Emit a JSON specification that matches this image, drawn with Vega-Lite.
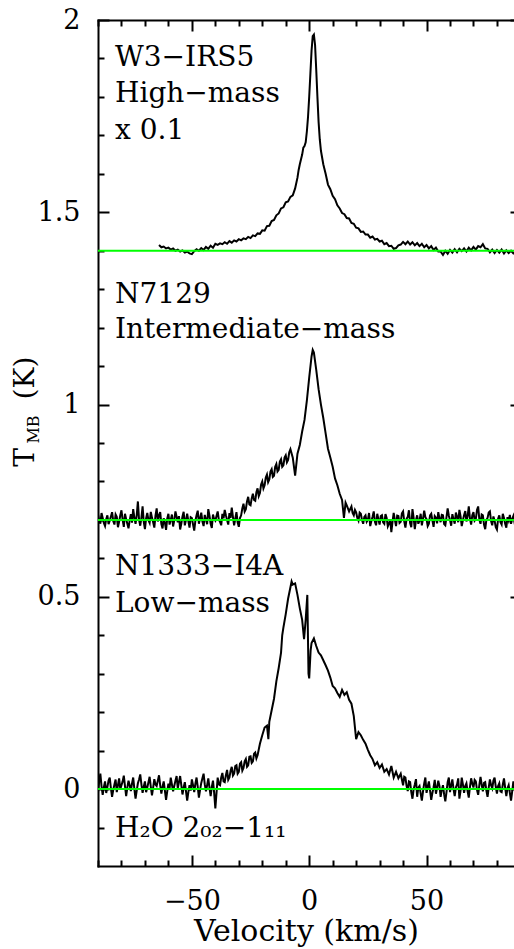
{
"$schema":"https://vega.github.io/schema/vega-lite/v6.json",
"width":416,"height":846,
"autosize":{"type":"none"},
"padding":{"left":98,"top":20,"right":0,"bottom":83},
"datasets":{
"w3":[{"v":-64,"t":1.415},{"v":-63,"t":1.409},{"v":-62,"t":1.411},{"v":-61,"t":1.406},{"v":-60,"t":1.408},{"v":-59,"t":1.403},{"v":-58,"t":1.406},{"v":-57,"t":1.4},{"v":-56,"t":1.403},{"v":-55,"t":1.398},{"v":-54,"t":1.401},{"v":-53,"t":1.395},{"v":-52,"t":1.398},{"v":-51,"t":1.393},{"v":-50,"t":1.391},{"v":-49,"t":1.399},{"v":-48,"t":1.404},{"v":-47,"t":1.4},{"v":-46,"t":1.407},{"v":-45,"t":1.402},{"v":-44,"t":1.41},{"v":-43,"t":1.405},{"v":-42,"t":1.413},{"v":-41,"t":1.408},{"v":-40,"t":1.418},{"v":-39,"t":1.415},{"v":-38,"t":1.419},{"v":-37,"t":1.417},{"v":-36,"t":1.422},{"v":-35,"t":1.418},{"v":-34,"t":1.425},{"v":-33,"t":1.421},{"v":-32,"t":1.427},{"v":-31,"t":1.424},{"v":-30,"t":1.43},{"v":-29,"t":1.427},{"v":-28,"t":1.432},{"v":-27,"t":1.43},{"v":-26,"t":1.436},{"v":-25,"t":1.433},{"v":-24,"t":1.44},{"v":-23,"t":1.438},{"v":-22,"t":1.445},{"v":-21,"t":1.444},{"v":-20,"t":1.453},{"v":-19,"t":1.452},{"v":-18,"t":1.464},{"v":-17,"t":1.465},{"v":-16,"t":1.477},{"v":-15,"t":1.48},{"v":-14,"t":1.492},{"v":-13,"t":1.497},{"v":-12,"t":1.51},{"v":-11,"t":1.513},{"v":-10,"t":1.526},{"v":-9,"t":1.528},{"v":-8,"t":1.54},{"v":-7,"t":1.544},{"v":-6,"t":1.562},{"v":-5,"t":1.59},{"v":-4.5,"t":1.61},{"v":-4,"t":1.625},{"v":-3,"t":1.65},{"v":-2.5,"t":1.668},{"v":-2,"t":1.672},{"v":-1.5,"t":1.682},{"v":-1,"t":1.71},{"v":-0.5,"t":1.748},{"v":0,"t":1.8},{"v":0.5,"t":1.86},{"v":1,"t":1.92},{"v":1.5,"t":1.958},{"v":2,"t":1.962},{"v":2.5,"t":1.935},{"v":3,"t":1.87},{"v":3.5,"t":1.8},{"v":4,"t":1.735},{"v":4.5,"t":1.69},{"v":5,"t":1.66},{"v":6,"t":1.625},{"v":7,"t":1.6},{"v":8,"t":1.572},{"v":9,"t":1.56},{"v":10,"t":1.543},{"v":11,"t":1.534},{"v":12,"t":1.518},{"v":13,"t":1.51},{"v":14,"t":1.498},{"v":15,"t":1.495},{"v":16,"t":1.485},{"v":17,"t":1.484},{"v":18,"t":1.472},{"v":19,"t":1.47},{"v":20,"t":1.46},{"v":21,"t":1.458},{"v":22,"t":1.449},{"v":23,"t":1.45},{"v":24,"t":1.442},{"v":25,"t":1.442},{"v":26,"t":1.434},{"v":27,"t":1.437},{"v":28,"t":1.429},{"v":29,"t":1.431},{"v":30,"t":1.424},{"v":31,"t":1.426},{"v":32,"t":1.417},{"v":33,"t":1.42},{"v":34,"t":1.412},{"v":35,"t":1.413},{"v":36,"t":1.405},{"v":37,"t":1.407},{"v":38,"t":1.414},{"v":39,"t":1.416},{"v":40,"t":1.423},{"v":41,"t":1.417},{"v":42,"t":1.424},{"v":43,"t":1.416},{"v":44,"t":1.422},{"v":45,"t":1.414},{"v":46,"t":1.42},{"v":47,"t":1.412},{"v":48,"t":1.418},{"v":49,"t":1.409},{"v":50,"t":1.415},{"v":51,"t":1.406},{"v":52,"t":1.412},{"v":53,"t":1.402},{"v":54,"t":1.408},{"v":55,"t":1.398},{"v":56,"t":1.398},{"v":57,"t":1.389},{"v":58,"t":1.4},{"v":59,"t":1.392},{"v":60,"t":1.402},{"v":61,"t":1.395},{"v":62,"t":1.404},{"v":63,"t":1.396},{"v":64,"t":1.405},{"v":65,"t":1.399},{"v":66,"t":1.406},{"v":67,"t":1.398},{"v":68,"t":1.408},{"v":69,"t":1.401},{"v":70,"t":1.41},{"v":71,"t":1.403},{"v":72,"t":1.412},{"v":73,"t":1.409},{"v":74,"t":1.417},{"v":75,"t":1.406},{"v":76,"t":1.405},{"v":77,"t":1.396},{"v":78,"t":1.403},{"v":79,"t":1.394},{"v":80,"t":1.402},{"v":81,"t":1.395},{"v":82,"t":1.403},{"v":83,"t":1.393},{"v":84,"t":1.401},{"v":85,"t":1.394},{"v":86,"t":1.4},{"v":87,"t":1.393},{"v":88,"t":1.398}],
"n7129":[{"v":-90,"t":0.715},{"v":-89.5,"t":0.7},{"v":-89,"t":0.69},{"v":-88.5,"t":0.718},{"v":-88,"t":0.705},{"v":-87.5,"t":0.692},{"v":-87,"t":0.684},{"v":-86.5,"t":0.702},{"v":-86,"t":0.712},{"v":-85.5,"t":0.689},{"v":-85,"t":0.698},{"v":-84.5,"t":0.709},{"v":-84,"t":0.72},{"v":-83.5,"t":0.697},{"v":-83,"t":0.688},{"v":-82.5,"t":0.714},{"v":-82,"t":0.708},{"v":-81.5,"t":0.681},{"v":-81,"t":0.695},{"v":-80.5,"t":0.712},{"v":-80,"t":0.725},{"v":-79.5,"t":0.7},{"v":-79,"t":0.682},{"v":-78.5,"t":0.716},{"v":-78,"t":0.702},{"v":-77.5,"t":0.69},{"v":-77,"t":0.678},{"v":-76.5,"t":0.699},{"v":-76,"t":0.715},{"v":-75.5,"t":0.693},{"v":-75,"t":0.728},{"v":-74.5,"t":0.706},{"v":-74,"t":0.69},{"v":-73.5,"t":0.712},{"v":-73,"t":0.748},{"v":-72.5,"t":0.7},{"v":-72,"t":0.685},{"v":-71.5,"t":0.706},{"v":-71,"t":0.735},{"v":-70.5,"t":0.695},{"v":-70,"t":0.676},{"v":-69.5,"t":0.704},{"v":-69,"t":0.718},{"v":-68.5,"t":0.699},{"v":-68,"t":0.692},{"v":-67.5,"t":0.721},{"v":-67,"t":0.706},{"v":-66.5,"t":0.694},{"v":-66,"t":0.68},{"v":-65.5,"t":0.711},{"v":-65,"t":0.73},{"v":-64.5,"t":0.696},{"v":-64,"t":0.712},{"v":-63.5,"t":0.72},{"v":-63,"t":0.689},{"v":-62.5,"t":0.678},{"v":-62,"t":0.704},{"v":-61.5,"t":0.693},{"v":-61,"t":0.674},{"v":-60.5,"t":0.703},{"v":-60,"t":0.716},{"v":-59.5,"t":0.688},{"v":-59,"t":0.7},{"v":-58.5,"t":0.714},{"v":-58,"t":0.683},{"v":-57.5,"t":0.699},{"v":-57,"t":0.722},{"v":-56.5,"t":0.708},{"v":-56,"t":0.694},{"v":-55.5,"t":0.71},{"v":-55,"t":0.675},{"v":-54.5,"t":0.69},{"v":-54,"t":0.709},{"v":-53.5,"t":0.721},{"v":-53,"t":0.686},{"v":-52.5,"t":0.7},{"v":-52,"t":0.716},{"v":-51.5,"t":0.697},{"v":-51,"t":0.68},{"v":-50.5,"t":0.707},{"v":-50,"t":0.705},{"v":-49.5,"t":0.688},{"v":-49,"t":0.672},{"v":-48.5,"t":0.698},{"v":-48,"t":0.712},{"v":-47.5,"t":0.724},{"v":-47,"t":0.69},{"v":-46.5,"t":0.704},{"v":-46,"t":0.719},{"v":-45.5,"t":0.696},{"v":-45,"t":0.684},{"v":-44.5,"t":0.713},{"v":-44,"t":0.701},{"v":-43.5,"t":0.689},{"v":-43,"t":0.728},{"v":-42.5,"t":0.711},{"v":-42,"t":0.69},{"v":-41.5,"t":0.679},{"v":-41,"t":0.714},{"v":-40.5,"t":0.702},{"v":-40,"t":0.698},{"v":-39.5,"t":0.71},{"v":-39,"t":0.722},{"v":-38.5,"t":0.7},{"v":-38,"t":0.695},{"v":-37.5,"t":0.686},{"v":-37,"t":0.716},{"v":-36.5,"t":0.704},{"v":-36,"t":0.726},{"v":-35.5,"t":0.712},{"v":-35,"t":0.7},{"v":-34.5,"t":0.688},{"v":-34,"t":0.718},{"v":-33.5,"t":0.705},{"v":-33,"t":0.732},{"v":-32.5,"t":0.708},{"v":-32,"t":0.686},{"v":-31.5,"t":0.703},{"v":-31,"t":0.72},{"v":-30.5,"t":0.694},{"v":-30,"t":0.682},{"v":-29.5,"t":0.705},{"v":-29,"t":0.712},{"v":-28.5,"t":0.73},{"v":-28,"t":0.742},{"v":-27.5,"t":0.722},{"v":-27,"t":0.728},{"v":-26.5,"t":0.748},{"v":-26,"t":0.76},{"v":-25.5,"t":0.74},{"v":-25,"t":0.738},{"v":-24.5,"t":0.756},{"v":-24,"t":0.768},{"v":-23.5,"t":0.752},{"v":-23,"t":0.75},{"v":-22.5,"t":0.772},{"v":-22,"t":0.782},{"v":-21.5,"t":0.762},{"v":-21,"t":0.77},{"v":-20.5,"t":0.792},{"v":-20,"t":0.8},{"v":-19.5,"t":0.782},{"v":-19,"t":0.79},{"v":-18.5,"t":0.81},{"v":-18,"t":0.818},{"v":-17.5,"t":0.798},{"v":-17,"t":0.805},{"v":-16.5,"t":0.826},{"v":-16,"t":0.832},{"v":-15.5,"t":0.812},{"v":-15,"t":0.815},{"v":-14.5,"t":0.838},{"v":-14,"t":0.845},{"v":-13.5,"t":0.826},{"v":-13,"t":0.83},{"v":-12.5,"t":0.852},{"v":-12,"t":0.858},{"v":-11.5,"t":0.838},{"v":-11,"t":0.842},{"v":-10.5,"t":0.862},{"v":-10,"t":0.868},{"v":-9.5,"t":0.85},{"v":-9,"t":0.856},{"v":-8.5,"t":0.876},{"v":-8,"t":0.884},{"v":-7,"t":0.862},{"v":-6,"t":0.815},{"v":-5,"t":0.872},{"v":-4,"t":0.895},{"v":-3,"t":0.93},{"v":-2,"t":0.96},{"v":-1,"t":1.01},{"v":0,"t":1.07},{"v":1,"t":1.125},{"v":1.5,"t":1.142},{"v":2,"t":1.135},{"v":3,"t":1.09},{"v":4,"t":1.04},{"v":5,"t":1.0},{"v":6,"t":0.965},{"v":7,"t":0.925},{"v":8,"t":0.885},{"v":9,"t":0.862},{"v":10,"t":0.838},{"v":11,"t":0.808},{"v":12,"t":0.79},{"v":13,"t":0.768},{"v":14,"t":0.752},{"v":14.8,"t":0.705},{"v":15.5,"t":0.745},{"v":16,"t":0.738},{"v":17,"t":0.722},{"v":18,"t":0.735},{"v":18.5,"t":0.718},{"v":19,"t":0.712},{"v":19.5,"t":0.726},{"v":20,"t":0.72},{"v":20.5,"t":0.705},{"v":21,"t":0.698},{"v":21.5,"t":0.719},{"v":22,"t":0.716},{"v":22.5,"t":0.7},{"v":23,"t":0.69},{"v":23.5,"t":0.708},{"v":24,"t":0.712},{"v":24.5,"t":0.695},{"v":25,"t":0.7},{"v":25.5,"t":0.718},{"v":26,"t":0.684},{"v":26.5,"t":0.697},{"v":27,"t":0.708},{"v":27.5,"t":0.722},{"v":28,"t":0.695},{"v":28.5,"t":0.686},{"v":29,"t":0.716},{"v":29.5,"t":0.701},{"v":30,"t":0.688},{"v":30.5,"t":0.71},{"v":31,"t":0.712},{"v":31.5,"t":0.694},{"v":32,"t":0.69},{"v":32.5,"t":0.715},{"v":33,"t":0.705},{"v":33.5,"t":0.683},{"v":34,"t":0.69},{"v":34.5,"t":0.702},{"v":35,"t":0.668},{"v":35.5,"t":0.695},{"v":36,"t":0.718},{"v":36.5,"t":0.7},{"v":37,"t":0.684},{"v":37.5,"t":0.711},{"v":38,"t":0.71},{"v":38.5,"t":0.692},{"v":39,"t":0.695},{"v":39.5,"t":0.717},{"v":40,"t":0.722},{"v":40.5,"t":0.696},{"v":41,"t":0.68},{"v":41.5,"t":0.703},{"v":42,"t":0.708},{"v":42.5,"t":0.725},{"v":43,"t":0.692},{"v":43.5,"t":0.681},{"v":44,"t":0.728},{"v":44.5,"t":0.705},{"v":45,"t":0.676},{"v":45.5,"t":0.699},{"v":46,"t":0.712},{"v":46.5,"t":0.69},{"v":47,"t":0.698},{"v":47.5,"t":0.716},{"v":48,"t":0.686},{"v":48.5,"t":0.703},{"v":49,"t":0.724},{"v":49.5,"t":0.707},{"v":50,"t":0.702},{"v":50.5,"t":0.684},{"v":51,"t":0.69},{"v":51.5,"t":0.712},{"v":52,"t":0.716},{"v":52.5,"t":0.699},{"v":53,"t":0.682},{"v":53.5,"t":0.71},{"v":54,"t":0.706},{"v":54.5,"t":0.691},{"v":55,"t":0.72},{"v":55.5,"t":0.704},{"v":56,"t":0.694},{"v":56.5,"t":0.713},{"v":57,"t":0.712},{"v":57.5,"t":0.689},{"v":58,"t":0.686},{"v":58.5,"t":0.707},{"v":59,"t":0.73},{"v":59.5,"t":0.711},{"v":60,"t":0.7},{"v":60.5,"t":0.685},{"v":61,"t":0.715},{"v":61.5,"t":0.702},{"v":62,"t":0.69},{"v":62.5,"t":0.719},{"v":63,"t":0.708},{"v":63.5,"t":0.694},{"v":64,"t":0.726},{"v":64.5,"t":0.709},{"v":65,"t":0.684},{"v":65.5,"t":0.699},{"v":66,"t":0.712},{"v":66.5,"t":0.723},{"v":67,"t":0.696},{"v":67.5,"t":0.71},{"v":68,"t":0.735},{"v":68.5,"t":0.704},{"v":69,"t":0.688},{"v":69.5,"t":0.712},{"v":70,"t":0.72},{"v":70.5,"t":0.698},{"v":71,"t":0.702},{"v":71.5,"t":0.726},{"v":72,"t":0.735},{"v":72.5,"t":0.701},{"v":73,"t":0.69},{"v":73.5,"t":0.714},{"v":74,"t":0.712},{"v":74.5,"t":0.688},{"v":75,"t":0.676},{"v":75.5,"t":0.7},{"v":76,"t":0.705},{"v":76.5,"t":0.719},{"v":77,"t":0.722},{"v":77.5,"t":0.697},{"v":78,"t":0.686},{"v":78.5,"t":0.709},{"v":79,"t":0.698},{"v":79.5,"t":0.681},{"v":80,"t":0.675},{"v":80.5,"t":0.703},{"v":81,"t":0.712},{"v":81.5,"t":0.694},{"v":82,"t":0.688},{"v":82.5,"t":0.716},{"v":83,"t":0.705},{"v":83.5,"t":0.69},{"v":84,"t":0.68},{"v":84.5,"t":0.707},{"v":85,"t":0.698},{"v":85.5,"t":0.713},{"v":86,"t":0.69},{"v":86.5,"t":0.702},{"v":87,"t":0.71},{"v":87.5,"t":0.693},{"v":88,"t":0.696}],
"n1333":[{"v":-90,"t":-0.01},{"v":-89.5,"t":0.02},{"v":-89,"t":0.04},{"v":-88.5,"t":0.008},{"v":-88,"t":-0.015},{"v":-87.5,"t":0.005},{"v":-87,"t":0.02},{"v":-86.5,"t":-0.01},{"v":-86,"t":0.005},{"v":-85.5,"t":0.022},{"v":-85,"t":0.03},{"v":-84.5,"t":0.002},{"v":-84,"t":-0.02},{"v":-83.5,"t":-0.002},{"v":-83,"t":0.012},{"v":-82.5,"t":0.025},{"v":-82,"t":-0.008},{"v":-81.5,"t":0.01},{"v":-81,"t":0.028},{"v":-80.5,"t":0.0},{"v":-80,"t":0.01},{"v":-79.5,"t":0.02},{"v":-79,"t":0.035},{"v":-78.5,"t":0.008},{"v":-78,"t":-0.018},{"v":-77.5,"t":0.004},{"v":-77,"t":0.022},{"v":-76.5,"t":0.01},{"v":-76,"t":-0.005},{"v":-75.5,"t":0.015},{"v":-75,"t":0.03},{"v":-74.5,"t":0.0},{"v":-74,"t":-0.025},{"v":-73.5,"t":-0.004},{"v":-73,"t":0.015},{"v":-72.5,"t":0.025},{"v":-72,"t":0.038},{"v":-71.5,"t":0.012},{"v":-71,"t":-0.01},{"v":-70.5,"t":0.006},{"v":-70,"t":0.02},{"v":-69.5,"t":-0.008},{"v":-69,"t":0.004},{"v":-68.5,"t":0.018},{"v":-68,"t":0.032},{"v":-67.5,"t":0.006},{"v":-67,"t":-0.016},{"v":-66.5,"t":0.004},{"v":-66,"t":0.026},{"v":-65.5,"t":0.012},{"v":-65,"t":0.008},{"v":-64.5,"t":0.022},{"v":-64,"t":0.036},{"v":-63.5,"t":0.01},{"v":-63,"t":-0.012},{"v":-62.5,"t":0.006},{"v":-62,"t":0.02},{"v":-61.5,"t":-0.004},{"v":-61,"t":-0.028},{"v":-60.5,"t":-0.006},{"v":-60,"t":0.014},{"v":-59.5,"t":0.002},{"v":-59,"t":0.03},{"v":-58.5,"t":0.012},{"v":-58,"t":-0.006},{"v":-57.5,"t":0.008},{"v":-57,"t":0.022},{"v":-56.5,"t":0.034},{"v":-56,"t":0.002},{"v":-55.5,"t":0.018},{"v":-55,"t":0.034},{"v":-54.5,"t":0.01},{"v":-54,"t":-0.014},{"v":-53.5,"t":0.004},{"v":-53,"t":0.018},{"v":-52.5,"t":-0.006},{"v":-52,"t":-0.03},{"v":-51.5,"t":-0.008},{"v":-51,"t":0.01},{"v":-50.5,"t":-0.004},{"v":-50,"t":0.025},{"v":-49.5,"t":0.01},{"v":-49,"t":-0.008},{"v":-48.5,"t":0.014},{"v":-48,"t":0.03},{"v":-47.5,"t":0.006},{"v":-47,"t":-0.022},{"v":-46.5,"t":-0.002},{"v":-46,"t":0.016},{"v":-45.5,"t":0.028},{"v":-45,"t":0.04},{"v":-44.5,"t":0.012},{"v":-44,"t":-0.006},{"v":-43.5,"t":0.01},{"v":-43,"t":0.028},{"v":-42.5,"t":0.004},{"v":-42,"t":-0.018},{"v":-41.5,"t":0.006},{"v":-41,"t":0.022},{"v":-40.5,"t":-0.01},{"v":-40,"t":-0.05},{"v":-39.5,"t":-0.01},{"v":-39,"t":0.03},{"v":-38.5,"t":0.012},{"v":-38,"t":0.01},{"v":-37.5,"t":0.03},{"v":-37,"t":0.042},{"v":-36.5,"t":0.02},{"v":-36,"t":0.018},{"v":-35.5,"t":0.036},{"v":-35,"t":0.05},{"v":-34.5,"t":0.024},{"v":-34,"t":0.03},{"v":-33.5,"t":0.048},{"v":-33,"t":0.058},{"v":-32.5,"t":0.035},{"v":-32,"t":0.04},{"v":-31.5,"t":0.06},{"v":-31,"t":0.062},{"v":-30.5,"t":0.04},{"v":-30,"t":0.045},{"v":-29.5,"t":0.066},{"v":-29,"t":0.07},{"v":-28.5,"t":0.048},{"v":-28,"t":0.055},{"v":-27.5,"t":0.072},{"v":-27,"t":0.078},{"v":-26.5,"t":0.058},{"v":-26,"t":0.062},{"v":-25.5,"t":0.084},{"v":-25,"t":0.085},{"v":-24.5,"t":0.068},{"v":-24,"t":0.072},{"v":-23.5,"t":0.092},{"v":-23,"t":0.095},{"v":-22.5,"t":0.08},{"v":-22,"t":0.088},{"v":-21,"t":0.118},{"v":-20,"t":0.14},{"v":-19,"t":0.16},{"v":-18,"t":0.165},{"v":-17.4,"t":0.13},{"v":-17,"t":0.175},{"v":-16,"t":0.205},{"v":-15,"t":0.235},{"v":-14,"t":0.28},{"v":-13,"t":0.315},{"v":-12,"t":0.355},{"v":-11.5,"t":0.4},{"v":-11,"t":0.42},{"v":-10,"t":0.455},{"v":-9,"t":0.495},{"v":-8,"t":0.525},{"v":-7.5,"t":0.54},{"v":-7,"t":0.532},{"v":-6,"t":0.535},{"v":-5,"t":0.505},{"v":-4,"t":0.47},{"v":-3,"t":0.44},{"v":-2.2,"t":0.39},{"v":-1.5,"t":0.44},{"v":-0.8,"t":0.505},{"v":-0.3,"t":0.3},{"v":0,"t":0.288},{"v":0.6,"t":0.36},{"v":1,"t":0.38},{"v":2,"t":0.392},{"v":3,"t":0.372},{"v":4,"t":0.355},{"v":5,"t":0.348},{"v":6,"t":0.335},{"v":7,"t":0.322},{"v":8,"t":0.308},{"v":9,"t":0.29},{"v":10,"t":0.268},{"v":11,"t":0.262},{"v":12,"t":0.25},{"v":13,"t":0.24},{"v":14,"t":0.258},{"v":15,"t":0.245},{"v":16,"t":0.252},{"v":17,"t":0.232},{"v":18,"t":0.222},{"v":19,"t":0.19},{"v":20,"t":0.13},{"v":21,"t":0.148},{"v":22,"t":0.14},{"v":23,"t":0.128},{"v":24,"t":0.118},{"v":25,"t":0.102},{"v":26,"t":0.088},{"v":27,"t":0.078},{"v":28,"t":0.062},{"v":29,"t":0.07},{"v":30,"t":0.055},{"v":31,"t":0.064},{"v":32,"t":0.045},{"v":33,"t":0.052},{"v":34,"t":0.038},{"v":35,"t":0.06},{"v":36,"t":0.03},{"v":37,"t":0.045},{"v":38,"t":0.028},{"v":39,"t":0.04},{"v":40,"t":0.01},{"v":40.5,"t":0.032},{"v":41,"t":0.03},{"v":41.5,"t":0.008},{"v":42,"t":-0.005},{"v":42.5,"t":0.02},{"v":43,"t":0.018},{"v":43.5,"t":-0.008},{"v":44,"t":-0.025},{"v":44.5,"t":0.0},{"v":45,"t":0.012},{"v":45.5,"t":0.026},{"v":46,"t":-0.02},{"v":46.5,"t":0.004},{"v":47,"t":0.008},{"v":47.5,"t":-0.012},{"v":48,"t":-0.03},{"v":48.5,"t":-0.006},{"v":49,"t":0.015},{"v":49.5,"t":0.03},{"v":50,"t":-0.01},{"v":50.5,"t":0.006},{"v":51,"t":0.02},{"v":51.5,"t":-0.004},{"v":52,"t":-0.028},{"v":52.5,"t":-0.01},{"v":53,"t":0.005},{"v":53.5,"t":0.024},{"v":54,"t":-0.012},{"v":54.5,"t":0.004},{"v":55,"t":0.022},{"v":55.5,"t":0.008},{"v":56,"t":-0.02},{"v":56.5,"t":-0.002},{"v":57,"t":0.01},{"v":57.5,"t":-0.014},{"v":58,"t":-0.032},{"v":58.5,"t":-0.008},{"v":59,"t":0.018},{"v":59.5,"t":0.03},{"v":60,"t":-0.008},{"v":60.5,"t":0.01},{"v":61,"t":0.025},{"v":61.5,"t":0.0},{"v":62,"t":-0.018},{"v":62.5,"t":0.004},{"v":63,"t":0.012},{"v":63.5,"t":0.028},{"v":64,"t":-0.025},{"v":64.5,"t":-0.004},{"v":65,"t":0.03},{"v":65.5,"t":0.012},{"v":66,"t":-0.01},{"v":66.5,"t":0.008},{"v":67,"t":0.015},{"v":67.5,"t":-0.006},{"v":68,"t":-0.022},{"v":68.5,"t":0.006},{"v":69,"t":0.028},{"v":69.5,"t":0.014},{"v":70,"t":0.004},{"v":70.5,"t":0.024},{"v":71,"t":0.02},{"v":71.5,"t":-0.002},{"v":72,"t":-0.015},{"v":72.5,"t":0.01},{"v":73,"t":0.032},{"v":73.5,"t":0.012},{"v":74,"t":-0.006},{"v":74.5,"t":0.016},{"v":75,"t":0.018},{"v":75.5,"t":-0.004},{"v":76,"t":-0.02},{"v":76.5,"t":0.004},{"v":77,"t":0.025},{"v":77.5,"t":0.01},{"v":78,"t":0.002},{"v":78.5,"t":0.022},{"v":79,"t":0.03},{"v":79.5,"t":0.006},{"v":80,"t":-0.012},{"v":80.5,"t":0.008},{"v":81,"t":0.015},{"v":81.5,"t":-0.006},{"v":82,"t":-0.008},{"v":82.5,"t":0.012},{"v":83,"t":0.028},{"v":83.5,"t":0.004},{"v":84,"t":-0.018},{"v":84.5,"t":0.002},{"v":85,"t":0.01},{"v":85.5,"t":-0.01},{"v":86,"t":-0.03},{"v":86.5,"t":-0.006},{"v":87,"t":0.02},{"v":87.5,"t":0.004},{"v":88,"t":-0.01}],
"base":[{"t":1.4},{"t":0.7},{"t":0}],
"labels":[{"v":-82.75,"t":1.88,"label":"W3−IRS5"},{"v":-82.75,"t":1.787,"label":"High−mass"},{"v":-82.75,"t":1.69,"label":"x 0.1"},{"v":-82.75,"t":1.264,"label":"N7129"},{"v":-82.75,"t":1.173,"label":"Intermediate−mass"},{"v":-82.75,"t":0.557,"label":"N1333−I4A"},{"v":-82.75,"t":0.46,"label":"Low−mass"},{"v":-82.75,"t":-0.125,"label":"H₂O 2₀₂−1₁₁"}]
},
"layer":[
{"data":{"name":"w3"},"mark":{"type":"line","color":"black","strokeWidth":2,"clip":true},
 "encoding":{
  "x":{"field":"v","type":"quantitative","scale":{"domain":[-90,87.27],"nice":false,"zero":false},
   "axis":{"orient":"bottom","values":[-50,0,50],"tickSize":-11,"labelPadding":33,"title":"Velocity (km/s)","titleFontSize":30,"titleBaseline":"alphabetic","titleY":74}},
  "y":{"field":"t","type":"quantitative","scale":{"domain":[-0.2,2.0],"nice":false,"zero":false},
   "axis":{"orient":"left","values":[0,0.5,1,1.5,2],"format":"~f","tickSize":-11,"labelPadding":29,"title":"T","titleFontSize":28,"titleAngle":270,"titleAlign":"center","titleBaseline":"alphabetic","titleX":-65,"titleY":437}}}},
{"data":{"name":"n7129"},"mark":{"type":"line","color":"black","strokeWidth":2,"clip":true},
 "encoding":{
  "x":{"field":"v","type":"quantitative","axis":{"orient":"bottom","values":[-90,-80,-70,-60,-40,-30,-20,-10,10,20,30,40,60,70,80],"tickSize":-6,"labels":false,"domain":false,"title":null}},
  "y":{"field":"t","type":"quantitative","axis":{"orient":"left","values":[-0.1,0.1,0.2,0.3,0.4,0.6,0.7,0.8,0.9,1.1,1.2,1.3,1.4,1.6,1.7,1.8,1.9],"tickSize":-6,"labels":false,"domain":false,"title":"MB","titleFontSize":16,"titleAngle":270,"titleAlign":"center","titleBaseline":"alphabetic","titleX":-60,"titleY":409}}}},
{"data":{"name":"n1333"},"mark":{"type":"line","color":"black","strokeWidth":2,"clip":true},
 "encoding":{
  "x":{"field":"v","type":"quantitative","axis":{"orient":"top","values":[-50,0,50],"tickSize":-11,"labels":false,"title":null}},
  "y":{"field":"t","type":"quantitative","axis":{"orient":"right","values":[0,0.5,1,1.5,2],"tickSize":-4,"labels":false,"domain":false,"title":null}}}},
{"data":{"name":"base"},"mark":{"type":"rule","color":"#00ff00","strokeWidth":2},
 "encoding":{"y":{"field":"t","type":"quantitative","axis":null}}},
{"data":{"name":"labels"},"mark":{"type":"text","align":"left","baseline":"alphabetic","fontSize":28,"font":"DejaVu Serif","color":"black"},
 "encoding":{
  "x":{"field":"v","type":"quantitative","axis":{"orient":"top","values":[-90,-80,-70,-60,-40,-30,-20,-10,10,20,30,40,60,70,80],"tickSize":-6,"labels":false,"domain":false,"title":null}},
  "y":{"field":"t","type":"quantitative","axis":{"orient":"left","ticks":false,"labels":false,"domain":false,"title":"(K)","titleFontSize":28,"titleAngle":270,"titleAlign":"center","titleBaseline":"alphabetic","titleX":-65,"titleY":357.5}},
  "text":{"field":"label"}}}
],
"resolve":{"axis":{"x":"independent","y":"independent"}},
"config":{"view":{"stroke":null},"font":"DejaVu Serif",
 "axis":{"grid":false,"domainColor":"black","domainWidth":2,"domainCap":"square","tickColor":"black","tickWidth":2,"labelColor":"black","labelFont":"DejaVu Serif","labelFontSize":27,"labelFlush":false,"labelOverlap":false,"titleFont":"DejaVu Serif","titleColor":"black","titleFontWeight":"normal"}}
}
